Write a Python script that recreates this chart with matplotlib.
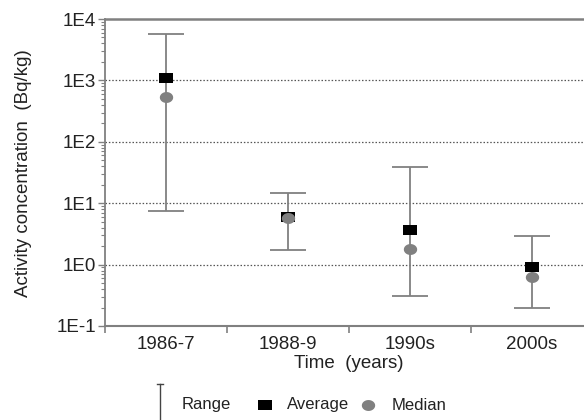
import matplotlib
matplotlib.use("Agg")
import matplotlib.pyplot as plt
from matplotlib.lines import Line2D
from matplotlib.path import Path
from matplotlib.ticker import FixedLocator, NullFormatter, LogLocator
import numpy as np

plt.rcParams['font.family'] = ['Liberation Sans', 'DejaVu Sans']

categories = ["1986-7", "1988-9", "1990s", "2000s"]
average = [1100, 5.9, 3.6, 0.93]
median = [540, 5.7, 1.8, 0.62]
range_min = [7.5, 1.73, 0.31, 0.20]
range_max = [5700, 14.7, 39, 2.88]
ytick_vals = [1e-1, 1e0, 1e1, 1e2, 1e3, 1e4]
ytick_labels = ["1E-1", "1E0", "1E1", "1E2", "1E3", "1E4"]

# wide marker shapes (as in the original)
rect_marker = Path([(-1, -0.77), (1, -0.77), (1, 0.77), (-1, 0.77), (-1, -0.77)],
                   [Path.MOVETO, Path.LINETO, Path.LINETO, Path.LINETO, Path.CLOSEPOLY])
t = np.linspace(0, 2 * np.pi, 61)
ell_marker = Path(np.column_stack([np.cos(t), 0.82 * np.sin(t)]))

W, H = 584, 420
fig = plt.figure(figsize=(W / 100, H / 100), dpi=100)
ax = fig.add_axes([105 / W, 1 - 326 / H, 488 / W, 307 / H])

x = np.arange(len(categories))
avg = np.array(average)
yerr = [avg - np.array(range_min), np.array(range_max) - avg]
gray = '#808080'
ax.errorbar(x, avg, yerr=yerr, fmt='none', ecolor=gray, elinewidth=1.3,
            capsize=13, capthick=1.3, zorder=3)
ax.plot(x, average, linestyle='none', marker=rect_marker, markersize=9.6,
        color='black', markeredgewidth=0, zorder=4)
ax.plot(x, median, linestyle='none', marker=ell_marker, markersize=9.6,
        color=gray, markeredgewidth=0, zorder=5)

ax.set_yscale('log')
ax.set_ylim(1e-1, 1e4)
ax.set_xlim(-0.5, 3.5)

for v in [1e0, 1e1, 1e2, 1e3]:
    ax.axhline(v, color='#555555', linestyle=(0, (1.2, 1.5)), linewidth=0.9, zorder=1)

ax.yaxis.set_major_locator(FixedLocator(ytick_vals))
ax.set_yticklabels(ytick_labels)
ax.yaxis.set_minor_locator(LogLocator(base=10, subs=np.arange(2, 10)))
ax.yaxis.set_minor_formatter(NullFormatter())
ax.tick_params(axis='y', which='major', length=5, width=1, color=gray,
               labelsize=13.5, pad=1.5, labelcolor='#222222')
ax.tick_params(axis='y', which='minor', length=3, width=0.8, color=gray)

ax.set_xticks(np.arange(-0.5, 4, 1.0))
ax.set_xticklabels([])
ax.set_xticks(x, minor=True)
ax.set_xticklabels(categories, minor=True)
ax.tick_params(axis='x', which='major', length=5, width=1.2, color=gray)
ax.tick_params(axis='x', which='minor', length=0, labelsize=13.5, pad=7,
               labelcolor='#222222')

for s in ['left', 'bottom', 'top', 'right']:
    ax.spines[s].set_color(gray)
ax.spines['left'].set_linewidth(1.3)
ax.spines['bottom'].set_linewidth(1.5)
ax.spines['top'].set_linewidth(1.8)

ax.set_xlabel("Time  (years)", fontsize=13.5, color='#222222', labelpad=2)
fig.text(24 / W, 1 - 173 / H, "Activity concentration  (Bq/kg)", rotation=90,
         ha='center', va='center', fontsize=13.5, color='#222222')

# legend
fig.add_artist(Line2D([160 / W, 160 / W], [1 - 384 / H, 0], transform=fig.transFigure,
                      color='#444444', linewidth=1.0))
fig.add_artist(Line2D([157 / W, 163 / W], [1 - 384 / H, 1 - 384 / H],
                      transform=fig.transFigure, color='#444444', linewidth=1.0))
ly = 1 - 405 / H
fig.text(182 / W, ly, "Range", ha='left', va='center', fontsize=12, color='#222222')
fig.add_artist(Line2D([265 / W], [ly], transform=fig.transFigure, marker=rect_marker,
                      markersize=9.6, markeredgewidth=0, color='black', linestyle='none'))
fig.text(287 / W, ly, "Average", ha='left', va='center', fontsize=12, color='#222222')
fig.add_artist(Line2D([368 / W], [ly], transform=fig.transFigure, marker=ell_marker,
                      markersize=9.6, markeredgewidth=0, color=gray, linestyle='none'))
fig.text(392 / W, ly, "Median", ha='left', va='center', fontsize=12, color='#222222')

fig.savefig("out.png", dpi=100)
